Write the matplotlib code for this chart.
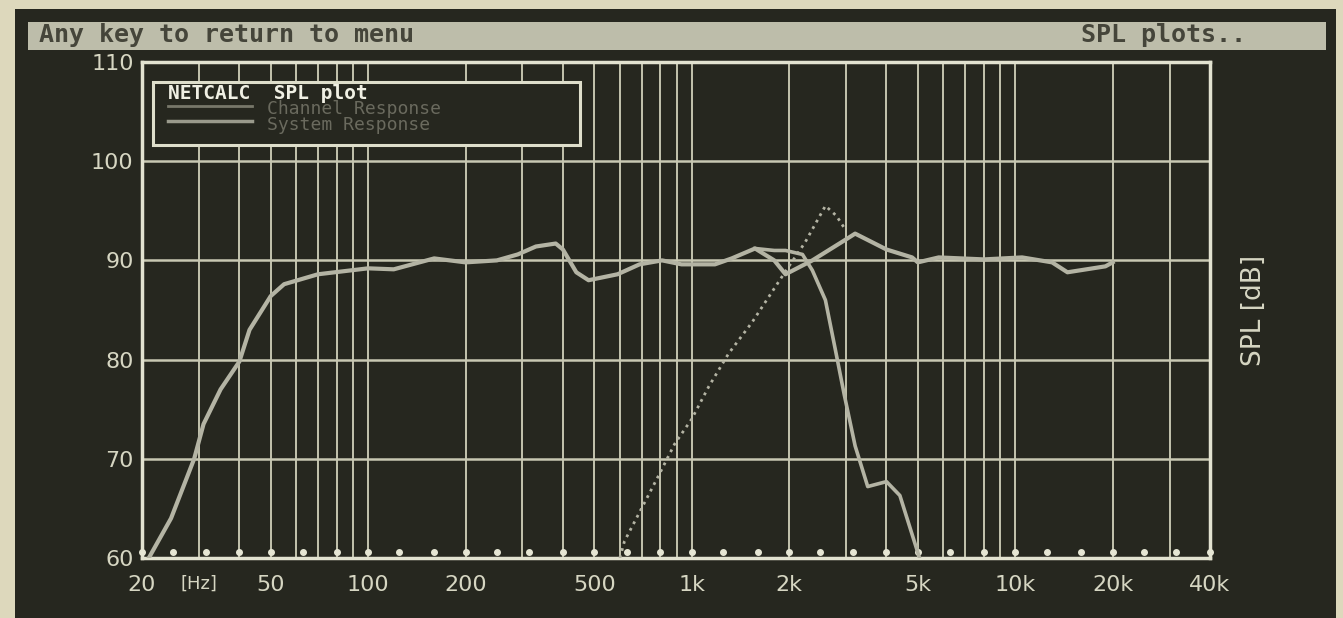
import matplotlib.pyplot as plt
from matplotlib.patches import Rectangle

sys_freq = [21, 24.6, 29, 31, 35, 40, 43, 50, 55, 70, 100, 120, 160, 200, 250, 290, 330,
            380, 400, 440, 480, 590, 690, 810, 930, 1180, 1330, 1570, 1800, 1950, 2360,
            2960, 3200, 4000, 4800, 5000, 5800, 8000, 10500, 13000, 14500, 19000, 20000]
sys_db = [60, 64, 70, 73.5, 77, 79.8, 83, 86.4, 87.6, 88.6, 89.2, 89.1, 90.2, 89.8, 90,
          90.6, 91.4, 91.7, 91.1, 88.8, 88, 88.6, 89.6, 90, 89.6, 89.6, 90.2, 91.2, 90,
          88.6, 90, 92, 92.7, 91.1, 90.3, 89.8, 90.3, 90.1, 90.3, 89.8, 88.8, 89.4, 89.8]

woofer_freq = [1570, 1800, 1950, 2200, 2360, 2590, 2780, 2960, 3200, 3500, 4000, 4400, 5060]
woofer_db = [91.2, 91.0, 91.0, 90.6, 89.0, 86.0, 81.0, 76.5, 71.3, 67.2, 67.7, 66.3, 60]

tweeter_freq = [600, 620, 700, 790, 886, 1000, 1130, 1300, 1540, 1950, 2240, 2590, 2800, 3000]
tweeter_db = [60, 61.7, 65, 68.3, 71.5, 74, 77.3, 80.6, 83.8, 88.9, 91.8, 95.5, 94.5, 93]

third_oct = [20, 25, 31.5, 40, 50, 63, 80, 100, 125, 160, 200, 250, 315, 400, 500, 630, 800,
             1000, 1250, 1600, 2000, 2500, 3150, 4000, 5000, 6300, 8000, 10000, 12500,
             16000, 20000, 25000, 31500, 40000]
grid_freq = [20, 30, 40, 50, 60, 70, 80, 90, 100, 200, 300, 400, 500, 600, 700, 800, 900,
             1000, 2000, 3000, 4000, 5000, 6000, 7000, 8000, 9000, 10000, 20000, 30000, 40000]
xtick_freq = [20, 50, 100, 200, 500, 1000, 2000, 5000, 10000, 20000, 40000]
xtick_lab = ["20", "50", "100", "200", "500", "1k", "2k", "5k", "10k", "20k", "40k"]
ytick_db = [60, 70, 80, 90, 100, 110]

bg = "#26271f"
fg = "#d6d6c2"
curve = "#b4b4a4"

fig = plt.figure(figsize=(13.43, 6.18), dpi=100, facecolor="#ddd8bc")
# ecrã escuro + barra de estado
fig.patches.append(Rectangle((0.011, 0.0), 0.984, 0.985, transform=fig.transFigure,
                             facecolor=bg, edgecolor="none", zorder=-3))
fig.patches.append(Rectangle((0.021, 0.919), 0.966, 0.045, transform=fig.transFigure,
                             facecolor="#bdbdaa", edgecolor="none", zorder=-2))
fig.text(0.029, 0.944, "Any key to return to menu", fontsize=18, fontweight="bold",
         family="DejaVu Sans Mono", color="#45453a", va="center")
fig.text(0.805, 0.944, "SPL plots..", fontsize=18, fontweight="bold",
         family="DejaVu Sans Mono", color="#45453a", va="center")

ax = fig.add_axes([0.1057, 0.0971, 0.7953, 0.8026])
ax.set_facecolor(bg)
ax.set_xscale("log")
ax.set_xlim(20, 40000)
ax.set_ylim(60, 110)

for f in grid_freq:
    ax.axvline(f, color="#c4c4ae", lw=1.4, zorder=1)
for d in ytick_db:
    ax.axhline(d, color="#c8c8b2", lw=1.8, zorder=1)
ax.plot(third_oct, [60.6] * len(third_oct), "o", ms=4, color="#e6e6d4", zorder=3, clip_on=False)

ax.plot(sys_freq, sys_db, color=curve, lw=3, zorder=4, solid_joinstyle="round")
ax.plot(woofer_freq, woofer_db, color=curve, lw=2.6, zorder=4)
ax.plot(tweeter_freq, tweeter_db, color=curve, lw=2, ls=":", zorder=4)

for s in ax.spines.values():
    s.set_color("#e2e2d0")
    s.set_linewidth(2.5)

ax.set_xticks(xtick_freq)
ax.set_xticklabels(xtick_lab)
ax.xaxis.set_minor_locator(plt.NullLocator())
ax.set_yticks(ytick_db)
ax.tick_params(length=0, colors=fg, labelsize=16, pad=6)
ax.tick_params(axis="x", pad=12)
ax.text(30, -0.052, "[Hz]", transform=ax.get_xaxis_transform(), fontsize=13,
        color=fg, ha="center", va="center")
ax.text(1.041, 0.50, "SPL [dB]", transform=ax.transAxes, rotation=90, fontsize=19,
        color=fg, ha="center", va="center")

# caixa da legenda
ax.add_patch(Rectangle((0.0103, 0.8327), 0.40, 0.127, transform=ax.transAxes,
                       facecolor=bg, edgecolor="#dedecb", lw=2.2, zorder=5))
ax.text(0.0243, 0.937, "NETCALC  SPL plot", transform=ax.transAxes, fontsize=14,
        family="DejaVu Sans Mono", fontweight="bold", color="#f0f0e4", va="center", zorder=6)
ax.plot([0.0243, 0.103], [0.912, 0.912], transform=ax.transAxes, color="#77776a", lw=2, zorder=6)
ax.plot([0.0243, 0.103], [0.882, 0.882], transform=ax.transAxes, color="#9a9a8c", lw=2.5, zorder=6)
ax.text(0.117, 0.905, "Channel Response", transform=ax.transAxes, fontsize=13,
        family="DejaVu Sans Mono", color="#6a6a5e", va="center", zorder=6)
ax.text(0.117, 0.872, "System Response", transform=ax.transAxes, fontsize=13,
        family="DejaVu Sans Mono", color="#6a6a5e", va="center", zorder=6)

plt.savefig("out.png", dpi=100, facecolor=fig.get_facecolor())
